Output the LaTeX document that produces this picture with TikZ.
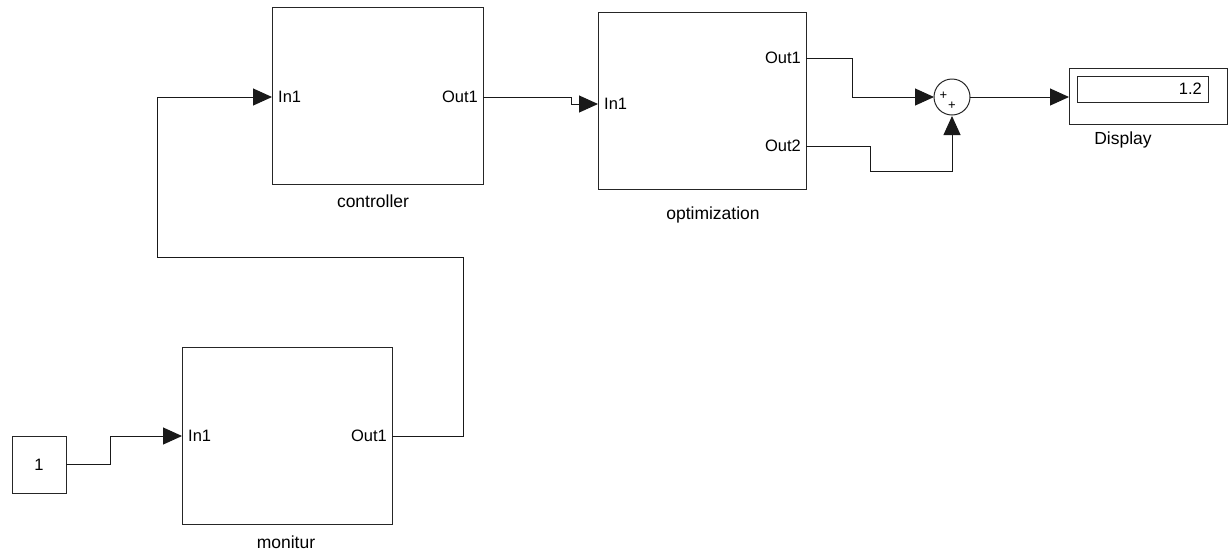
\documentclass[tikz,border=0pt]{standalone}
\usepackage{fontspec}
\setmainfont{Liberation Sans}
\usetikzlibrary{arrows.meta}
\begin{document}
\begin{tikzpicture}[x=1pt,y=-1pt,
  blk/.style={draw=black!85,line width=1pt,rectangle,inner sep=0pt},
  lbl/.style={font=\fontsize{17.5}{20}\selectfont,inner sep=0pt},
  port/.style={font=\fontsize{16.5}{19}\selectfont,inner sep=0pt},
  wire/.style={line width=1pt,black!90},
  sig/.style={wire,-{Triangle[length=19pt,width=17pt]}}]
\useasboundingbox (0,0) rectangle (1228,550);
% blocks
\node[blk,minimum width=211pt,minimum height=177pt] (ctrl) at (377.5,95.5) {};
\node[blk,minimum width=208pt,minimum height=177pt] (opt) at (702,100.5) {};
\node[blk,minimum width=210pt,minimum height=177pt] (mon) at (287,435.5) {};
\node[blk,minimum width=54pt,minimum height=57pt] (const) at (39,464.5) {};
\node[port] at (const.center) {1};
\node[blk,circle,minimum size=36pt] (sum) at (952,97) {};
\node[font=\fontsize{13}{13}\selectfont,inner sep=0pt] (p1) at (943.5,95.5) {+};
\node[font=\fontsize{13}{13}\selectfont,inner sep=0pt] (p2) at (952,105.5) {+};
\node[blk,minimum width=158pt,minimum height=56pt] (disp) at (1148,96) {};
\node[blk,minimum width=131pt,minimum height=26pt] (dispin) at (1142.5,89) {};
\node[port,anchor=east] (val) at (1202,89) {1.2};
% block labels
\node[lbl] (lc) at (373,201) {controller};
\node[lbl] (lo) at (713,215) {optimization};
\node[lbl] (lm) at (286,542) {monitur};
\node[lbl] (ld) at (1123,140) {Display};
% port labels
\node[port,anchor=west] (ci) at (278,97) {In1};
\node[port,anchor=east] (co) at (478,97) {Out1};
\node[port,anchor=west] (oi) at (604,104) {In1};
\node[port,anchor=east] (oo1) at (801,58) {Out1};
\node[port,anchor=east] (oo2) at (801,146) {Out2};
\node[port,anchor=west] (mi) at (188,436) {In1};
\node[port,anchor=east] (mo) at (387,436) {Out1};
% port coordinates
\coordinate (constout) at (66,464);
\coordinate (monin) at (182,436);
\coordinate (monout) at (392,436);
\coordinate (ctrlin) at (272,97);
\coordinate (ctrlout) at (483,97);
\coordinate (optin) at (598,104);
\coordinate (optout1) at (806,58);
\coordinate (optout2) at (806,146);
\coordinate (sumin1) at (934,97);
\coordinate (sumin2) at (952,116);
\coordinate (sumout) at (970,97);
\coordinate (dispin1) at (1069,97);
% connectors
\draw[sig] (constout) -- (110,464) -- (110,436) -- (monin);
\draw[sig] (monout) -- (463,436) -- (463,257) -- (157,257) -- (157,97) -- (ctrlin);
\draw[sig] (ctrlout) -- (571,97) -- (571,104) -- (optin);
\draw[sig] (optout1) -- (852,58) -- (852,97) -- (sumin1);
\draw[sig] (optout2) -- (870,146) -- (870,171) -- (952,171) -- (sumin2);
\draw[sig] (sumout) -- (dispin1);
\end{tikzpicture}
\end{document}
